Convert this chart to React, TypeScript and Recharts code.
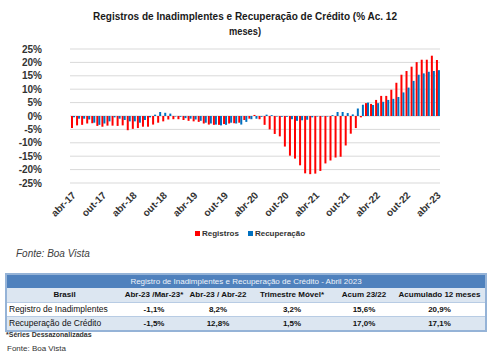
import React from 'react';
import { BarChart, Bar, XAxis, YAxis, CartesianGrid } from 'recharts';

const months = [
  'abr-17', 'mai-17', 'jun-17', 'jul-17', 'ago-17', 'set-17', 'out-17', 'nov-17', 'dez-17',
  'jan-18', 'fev-18', 'mar-18', 'abr-18', 'mai-18', 'jun-18', 'jul-18', 'ago-18', 'set-18', 'out-18', 'nov-18', 'dez-18',
  'jan-19', 'fev-19', 'mar-19', 'abr-19', 'mai-19', 'jun-19', 'jul-19', 'ago-19', 'set-19', 'out-19', 'nov-19', 'dez-19',
  'jan-20', 'fev-20', 'mar-20', 'abr-20', 'mai-20', 'jun-20', 'jul-20', 'ago-20', 'set-20', 'out-20', 'nov-20', 'dez-20',
  'jan-21', 'fev-21', 'mar-21', 'abr-21', 'mai-21', 'jun-21', 'jul-21', 'ago-21', 'set-21', 'out-21', 'nov-21', 'dez-21',
  'jan-22', 'fev-22', 'mar-22', 'abr-22', 'mai-22', 'jun-22', 'jul-22', 'ago-22', 'set-22', 'out-22', 'nov-22', 'dez-22',
  'jan-23', 'fev-23', 'mar-23', 'abr-23',
];

const registros = [
  -4.5, -3.5, -3.3, -2.8, -2.7, -3.7, -4.0, -3.6, -3.6,
  -3.7, -3.5, -5.3, -4.8, -4.5, -4.0, -4.0, -3.2, -2.5, -2.0, -1.3, -1.2,
  -1.2, -1.5, -1.8, -2.0, -2.2, -2.8, -3.2, -3.3, -3.3, -3.0, -2.8, -2.7,
  -2.5, -1.5, -1.0, 0.4, -1.2, -3.3, -5.0, -6.7, -7.6, -11.4, -14.8, -15.9,
  -18.4, -21.4, -21.7, -21.5, -20.5, -17.7, -16.6, -15.5, -15.2, -11.0, -6.6, -4.5,
  -0.5, 4.8, 4.5, 6.0, 7.5, 7.5, 9.8, 12.4, 15.4, 16.8, 18.4, 20.1,
  21.0, 21.0, 22.5, 20.9,
];

const recuperacao = [
  -0.5, -1.0, -1.0, -1.3, -2.5, -3.3, -2.8, -2.0, -0.5,
  -1.0, -1.5, -2.0, -2.0, -2.5, -1.5, -0.5, 0.5, 1.5, 1.2, 0.9, -0.2,
  -0.3, -0.8, -1.0, -1.3, -1.8, -2.5, -2.8, -3.2, -3.5, -3.3, -2.5, -2.8,
  -3.2, -2.2, -1.2, -1.0, -0.3, 0.5, 0.3, -0.2, -0.3, -0.3, -1.2, -1.8,
  -1.6, -1.4, -0.5, -0.2, -0.2, -0.2, 0.3, 1.5, 1.5, 1.1, 0.6, 2.8,
  4.2, 5.0, 4.1, 4.8, 5.3, 6.0, 6.4, 7.1, 8.8, 10.6, 13.1, 15.4,
  15.9, 16.5, 16.8, 17.1,
];

const yTicks = [-25, -20, -15, -10, -5, 0, 5, 10, 15, 20, 25];

const titleLine1 = 'Registros de Inadimplentes e Recuperação de Crédito (% Ac. 12';
const titleLine2 = 'meses)';

const tableTitle = 'Registro de Inadimplentes e Recuperação de Crédito - Abril 2023';
const tableHeaders = ['Brasil', 'Abr-23 /Mar-23*', 'Abr-23 / Abr-22', 'Trimestre Móvel*', 'Acum 23/22', 'Acumulado 12 meses'];
const rowLabels = ['Registro de Inadimplentes', 'Recuperação de Crédito'];
const rowRegistros = ['-1,1%', '8,2%', '3,2%', '15,6%', '20,9%'];
const rowRecuperacao = ['-1,5%', '12,8%', '1,5%', '17,0%', '17,1%'];
const tableRows = [rowRegistros, rowRecuperacao];
const colWidths = [116, 64, 64, 84, 60, 92];

const data = months.map((m, i) => ({ month: m, registros: registros[i], recuperacao: recuperacao[i] }));

const FONT = '"Liberation Sans", Arial, sans-serif';
const RED = '#ff0000';
const BLUE = '#0070c0';

const XTick = (props: any) => {
  const { x, y, payload } = props;
  const px = x + 4;
  const py = y + 13;
  return (
    <text
      x={px}
      y={py}
      textAnchor="end"
      transform={`rotate(-45, ${px}, ${py})`}
      fontSize={10}
      fontWeight="bold"
      fill="#333"
      fontFamily={FONT}
    >
      {payload.value}
    </text>
  );
};

export default function App() {
  const rowBg = ['#ffffff', '#dce6f1'];
  return (
    <div style={{ position: 'absolute', left: 0, top: 0, width: 500, height: 361, background: '#fff', fontFamily: FONT, overflow: 'hidden' }}>
      <svg style={{ position: 'absolute', left: 0, top: 0 }} width={500} height={40}>
        <text x={245} y={19.5} textAnchor="middle" fontSize={10.5} fontWeight="bold" fill="#1a1a1a" fontFamily={FONT} textLength={304} lengthAdjust="spacingAndGlyphs">
          {titleLine1}
        </text>
        <text x={245} y={34.5} textAnchor="middle" fontSize={10.5} fontWeight="bold" fill="#1a1a1a" fontFamily={FONT} textLength={32} lengthAdjust="spacingAndGlyphs">
          {titleLine2}
        </text>
      </svg>

      <div style={{ position: 'absolute', left: 0, top: 0 }}>
        <BarChart width={500} height={250} data={data} margin={{ top: 49, right: 60, left: 0, bottom: 0 }} barGap={0} barSize={2}>
          <CartesianGrid vertical={false} stroke="#d9d9d9" strokeWidth={1} />
          <XAxis
            dataKey="month"
            interval={5}
            tickLine={false}
            axisLine={false}
            tickSize={0}
            tickMargin={0}
            height={67}
            tick={<XTick />}
          />
          <YAxis
            domain={[-25, 25]}
            ticks={yTicks}
            tickFormatter={(v: number) => `${v}%`}
            width={70}
            tickLine={false}
            axisLine={false}
            tickSize={0}
            tickMargin={28}
            interval={0}
            tick={{ fontSize: 10, fontWeight: 'bold', fill: '#333', fontFamily: FONT }}
          />
          <Bar dataKey="registros" fill={RED} isAnimationActive={false} />
          <Bar dataKey="recuperacao" fill={BLUE} isAnimationActive={false} />
        </BarChart>
      </div>

      <div style={{ position: 'absolute', left: 195, top: 229, display: 'flex', alignItems: 'center', fontSize: 8, fontWeight: 'bold', color: '#333', whiteSpace: 'nowrap' }}>
        <span style={{ display: 'inline-block', width: 5, height: 5, background: RED, marginRight: 2 }} />
        <span>Registros</span>
        <span style={{ display: 'inline-block', width: 5, height: 5, background: BLUE, marginLeft: 9, marginRight: 2 }} />
        <span>Recuperação</span>
      </div>

      <div style={{ position: 'absolute', left: 16, top: 248, fontSize: 10, fontStyle: 'italic', color: '#404040' }}>Fonte: Boa Vista</div>

      <table style={{ position: 'absolute', left: 5, top: 273, width: 480, borderCollapse: 'collapse', tableLayout: 'fixed', border: '2px solid #95b3d7', fontSize: 8 }}>
        <colgroup>
          {colWidths.map((w, i) => <col key={i} style={{ width: w }} />)}
        </colgroup>
        <tbody>
          <tr style={{ background: '#4f81bd', height: 14 }}>
            <td colSpan={6} style={{ padding: 0, textAlign: 'center', color: '#eef3fa', fontSize: 8, lineHeight: '13px' }}>{tableTitle}</td>
          </tr>
          <tr style={{ background: '#dce6f1', height: 14 }}>
            {tableHeaders.map((h, i) => (
              <td key={i} style={{ padding: 0, textAlign: 'center', fontWeight: 'bold', color: '#111', lineHeight: '13px', whiteSpace: 'nowrap' }}>{h}</td>
            ))}
          </tr>
          {tableRows.map((r, ri) => (
            <tr key={ri} style={{ background: rowBg[ri], height: 14, borderTop: '1px solid #b8cce4' }}>
              <td style={{ padding: '0 0 0 2px', textAlign: 'left', color: '#111', fontSize: 8.5, lineHeight: '13px', whiteSpace: 'nowrap' }}>{rowLabels[ri]}</td>
              {r.map((v, ci) => (
                <td key={ci} style={{ padding: 0, textAlign: 'center', fontWeight: 'bold', color: '#111', lineHeight: '13px' }}>{v}</td>
              ))}
            </tr>
          ))}
        </tbody>
      </table>

      <div style={{ position: 'absolute', left: 6, top: 331, fontSize: 7, fontWeight: 'bold', color: '#333' }}>*Séries Dessazonalizadas</div>
      <div style={{ position: 'absolute', left: 7, top: 344, fontSize: 8, color: '#333' }}>Fonte: Boa Vista</div>
    </div>
  );
}
